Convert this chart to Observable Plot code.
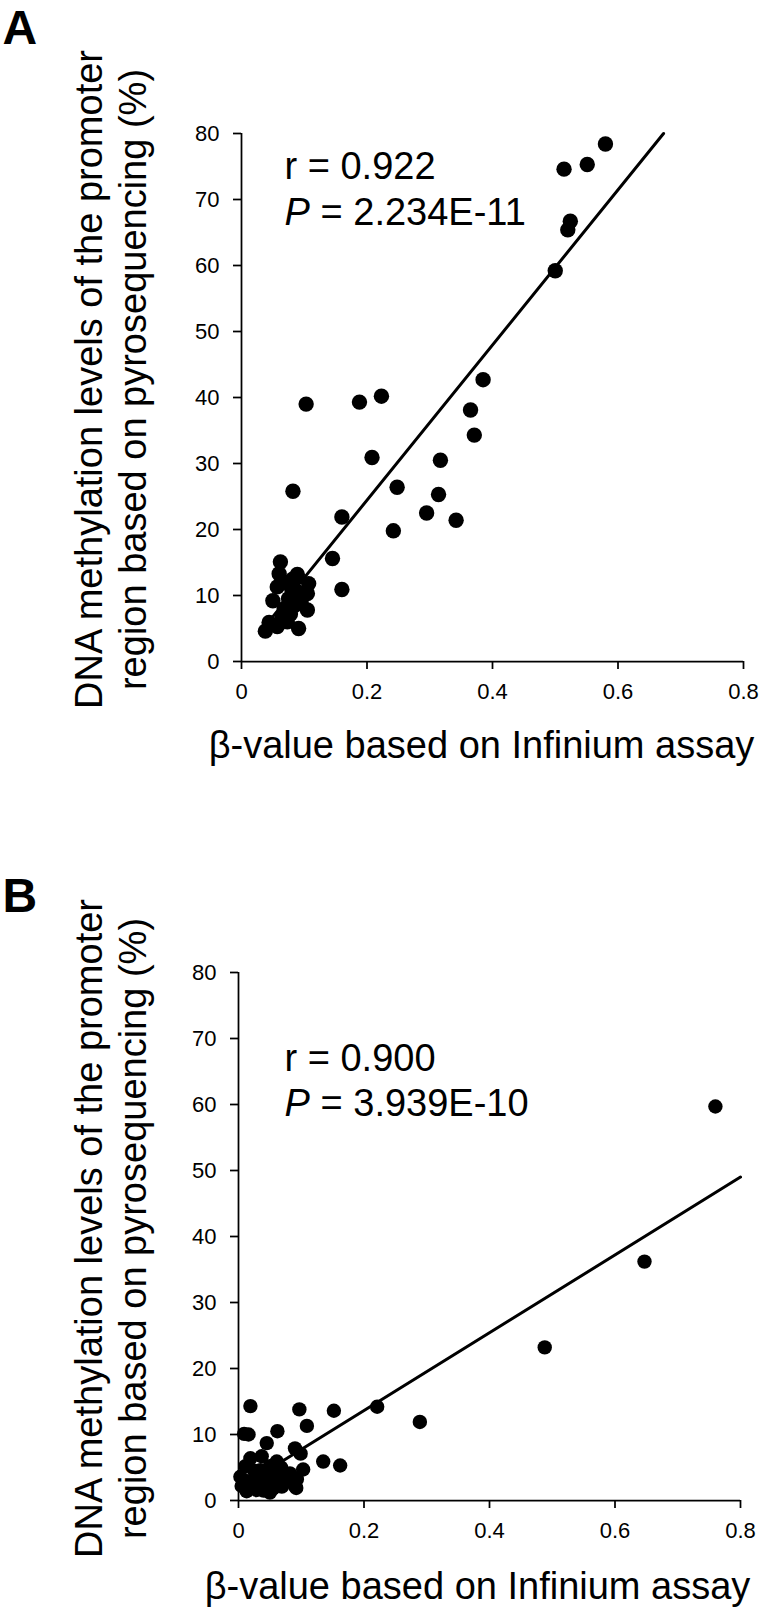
<!DOCTYPE html>
<html>
<head>
<meta charset="utf-8">
<script src="https://cdn.jsdelivr.net/npm/d3@7"></script>
<script src="https://cdn.jsdelivr.net/npm/@observablehq/plot@0.6"></script>
<style>
  html, body { margin: 0; padding: 0; background: #fff; }
  #chart svg { display: block; }
</style>
</head>
<body>
<div id="chart"></div>
<script>
// ---------- data ----------
const xTicks = [0, 0.2, 0.4, 0.6, 0.8];
const xTickLabels = ["0", "0.2", "0.4", "0.6", "0.8"];
const yTicks = [0, 10, 20, 30, 40, 50, 60, 70, 80];

const xTitle = "β-value based on Infinium assay";
const yTitle = "DNA methylation levels of the promoter\nregion based on pyrosequencing (%)";

// Panel A
const aX = [0.580, 0.551, 0.514, 0.524, 0.520, 0.500, 0.385, 0.365, 0.371, 0.223, 0.188, 0.103,
            0.208, 0.317, 0.248, 0.314, 0.295, 0.342, 0.242, 0.082, 0.160, 0.145, 0.160,
            0.062, 0.089, 0.060, 0.107, 0.105, 0.105, 0.091, 0.038, 0.044, 0.057, 0.073, 0.050,
            0.057, 0.070, 0.080, 0.090, 0.075, 0.085, 0.068, 0.078, 0.095, 0.065, 0.082];
const aY = [78.4, 75.3, 74.6, 66.7, 65.4, 59.2, 42.7, 38.1, 34.3, 40.2, 39.3, 39.0,
            30.9, 30.5, 26.4, 25.3, 22.5, 21.4, 19.8, 25.8, 21.9, 15.6, 10.9,
            15.1, 13.2, 13.3, 11.8, 10.3, 7.8, 5.0, 4.6, 5.9, 5.3, 6.0, 9.2,
            11.3, 12.0, 11.0, 10.5, 9.5, 8.5, 8.0, 7.2, 9.0, 6.8, 12.5];
const aTrendX = [0.038, 0.6726];
const aTrendY = [5.4, 80];
const aStats = ["r = 0.922", "= 2.234E-11"];

// Panel B
const bX = [0.760, 0.647, 0.488, 0.289, 0.221, 0.152, 0.162, 0.135, 0.109, 0.097, 0.062, 0.019,
            0.009, 0.016, 0.045, 0.090, 0.099, 0.103,
            0.061, 0.037, 0.019, 0.011, 0.003, 0.082, 0.090, 0.092, 0.050, 0.013, 0.029, 0.069,
            0.077, 0.040, 0.021, 0.056, 0.061, 0.035, 0.050,
            0.005, 0.025, 0.045, 0.065, 0.072, 0.085, 0.030, 0.055, 0.010, 0.040, 0.068, 0.093];
const bY = [59.7, 36.2, 23.2, 11.9, 14.2, 13.6, 5.3, 5.9, 11.3, 13.8, 10.5, 14.3,
            10.1, 10.0, 8.7, 7.9, 7.1, 4.7,
            5.9, 6.7, 6.4, 5.2, 3.6, 4.1, 2.2, 1.9, 1.2, 1.4, 1.6, 2.1,
            2.9, 2.9, 2.9, 4.1, 2.9, 4.6, 5.2,
            2.2, 4.5, 3.8, 4.0, 3.3, 3.0, 2.5, 1.8, 3.0, 1.5, 5.0, 3.2];
const bTrendX = [0.003, 0.8];
const bTrendY = [2.0, 49.0];
const bStats = ["r = 0.900", "= 3.939E-10"];

// ---------- drawing ----------
const FONT = "'Liberation Sans', Arial, Helvetica, sans-serif";

function panel(cfg) {
  const pts = cfg.xs.map((x, i) => ({x, y: cfg.ys[i]}));
  const trend = cfg.tx.map((x, i) => ({x, y: cfg.ty[i]}));
  const L = cfg.marginLeft, T = cfg.marginTop;
  return Plot.plot({
    width: 760,
    height: cfg.height,
    marginLeft: L,
    marginRight: cfg.marginRight,
    marginTop: T,
    marginBottom: cfg.marginBottom,
    style: {fontFamily: FONT, color: "#000", background: "#fff", overflow: "visible"},
    x: {domain: [0, 0.8], axis: null},
    y: {domain: [0, 80], axis: null},
    marks: [
      Plot.ruleX([0], {y1: 0, y2: 80, stroke: "#000", strokeWidth: 1.75}),
      Plot.ruleY([0], {x1: 0, x2: 0.8, stroke: "#000", strokeWidth: 1.75}),
      Plot.axisX({ticks: xTicks, tickFormat: (d, i) => xTickLabels[i], tickSize: 8, tickPadding: 14,
                  fontSize: 22, strokeWidth: 1.75, stroke: "#000", fill: "#000", label: null}),
      Plot.axisY({ticks: yTicks, tickSize: 8, tickPadding: 14,
                  fontSize: 22, strokeWidth: 1.75, stroke: "#000", fill: "#000", label: null}),
      Plot.line(trend, {x: "x", y: "y", stroke: "#000", strokeWidth: 3}),
      Plot.dot(pts, {x: "x", y: "y", r: cfg.r, fill: "#000", stroke: "none"}),
      // panel letter
      Plot.text([cfg.letter], {frameAnchor: "top-left", dx: 2 - L, dy: cfg.letterTop - T,
        lineAnchor: "top", textAnchor: "start", fontSize: 48, fontWeight: "bold", fill: "#000"}),
      // y title (two lines, rotated)
      Plot.text([yTitle], {frameAnchor: "left", dx: 109 - L, dy: cfg.yTitleDy, rotate: -90,
        lineAnchor: "middle", textAnchor: "middle", lineHeight: 1.16, fontSize: 38, fill: "#000"}),
      // x title
      Plot.text([xTitle], {frameAnchor: "bottom", dx: cfg.xTitleDx, dy: cfg.xTitleDy,
        lineAnchor: "bottom", textAnchor: "middle", fontSize: 38, fill: "#000"}),
      // statistics
      Plot.text([cfg.stats[0]], {frameAnchor: "top-left", dx: cfg.statX - L, dy: cfg.stat1 - T,
        lineAnchor: "bottom", textAnchor: "start", fontSize: 38, fill: "#000"}),
      Plot.text(["P"], {frameAnchor: "top-left", dx: cfg.statX - L, dy: cfg.stat2 - T,
        lineAnchor: "bottom", textAnchor: "start", fontSize: 38, fontStyle: "italic", fill: "#000"}),
      Plot.text([cfg.stats[1]], {frameAnchor: "top-left", dx: cfg.statX - L + 36, dy: cfg.stat2 - T,
        lineAnchor: "bottom", textAnchor: "start", fontSize: 38, fill: "#000"})
    ]
  });
}

const chart = document.getElementById("chart");
chart.appendChild(panel({
  xs: aX, ys: aY, tx: aTrendX, ty: aTrendY, stats: aStats, letter: "A",
  height: 800, marginLeft: 241, marginRight: 17, marginTop: 133, marginBottom: 139,
  r: 7.7, letterTop: 9, yTitleDy: -18, xTitleDx: -11, xTitleDy: 96,
  statX: 284, stat1: 178, stat2: 224
}));
chart.appendChild(panel({
  xs: bX, ys: bY, tx: bTrendX, ty: bTrendY, stats: bStats, letter: "B",
  height: 807, marginLeft: 238, marginRight: 20, marginTop: 172, marginBottom: 107,
  r: 7.2, letterTop: 77, yTitleDy: -8, xTitleDx: -12, xTitleDy: 98,
  statX: 284, stat1: 270, stat2: 315
}));
</script>
</body>
</html>
